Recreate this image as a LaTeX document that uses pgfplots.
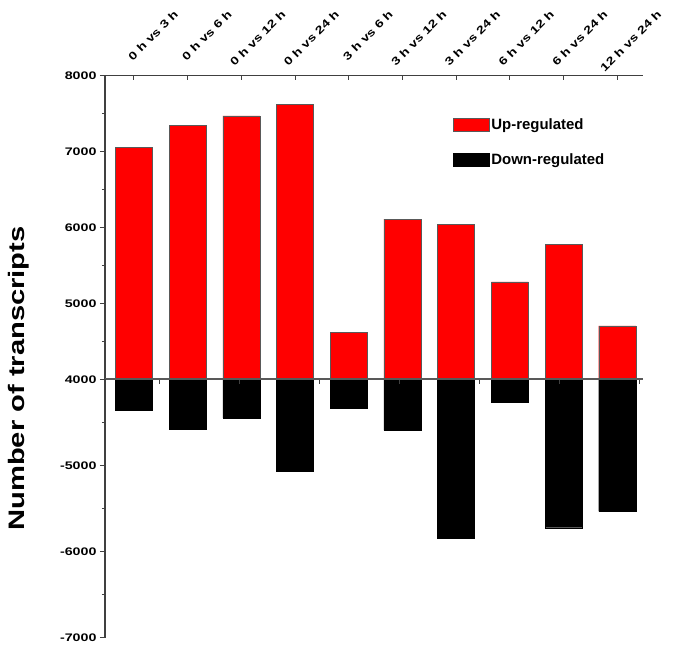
\documentclass[border=0pt]{standalone}
\usepackage{fontspec}
\setmainfont{Liberation Sans}
\newfontfamily\widefont{Liberation Sans}[FakeStretch=1.3]
\usepackage{pgfplots}
\usepackage{pgfplotstable}
\usetikzlibrary{calc}
\pgfplotsset{compat=1.18}

% up: up-regulated counts, down: down-regulated (lower scale)
\pgfplotstableread{
x up down
0 7050 -4360
1 7345 -4580
2 7470 -4445
3 7620 -5060
4 4620 -4335
5 6110 -4590
6 6045 -5840
7 5285 -4260
8 5780 -5720
9 4705 -5530
}\datatable

\pgfplotsset{
  common/.style={
    scale only axis, width=538bp,
    xmin=-0.54, xmax=9.48,
    axis x line=top, axis y line=left,
    axis line style={-, draw=black!75, line width=1.2bp},
    xtick align=inside, ytick align=outside,
    tick style={draw=black!75, line width=1bp},
    major tick length=5bp, minor tick length=3bp,
    yticklabel style={font=\widefont\bfseries\fontsize{11}{12}\selectfont},
    axis on top,
  },
  boxlegend/.style={legend image code/.code={\draw[##1] (0bp,-6.5bp) rectangle (36bp,6.5bp);}},
}

\begin{document}
\begin{tikzpicture}
\begin{axis}[common, name=up, height=304bp,
  ymin=4000, ymax=8000,
  xtick={0,...,9},
  xticklabels={0 h vs 3 h, 0 h vs 6 h, 0 h vs 12 h, 0 h vs 24 h, 3 h vs 6 h,
    3 h vs 12 h, 3 h vs 24 h, 6 h vs 12 h, 6 h vs 24 h, 12 h vs 24 h},
  xticklabel shift=21bp,
  xticklabel style={rotate=45, anchor=east, xshift=63bp,
    font=\widefont\bfseries\fontsize{11}{12}\selectfont},
  ytick={4000,5000,6000,7000,8000},
  yticklabels={4000,5000,6000,7000,8000},
  minor ytick={4500,5500,6500,7500},
  legend style={at={(rel axis cs:0.641,0.872)}, anchor=north west, draw=none, fill=none,
    font=\bfseries\fontsize{15}{17}\selectfont, row sep=19bp},
  legend cell align=left,
]
\addplot[ybar, bar width=0.69, fill=red, draw=black!65, boxlegend] table[x=x, y=up] {\datatable};
\addlegendentry{Up-regulated}
\addlegendimage{fill=black, draw=black, boxlegend}
\addlegendentry{Down-regulated}
\coordinate (tl) at (rel axis cs:0,1);
\end{axis}

\begin{axis}[common, at={(up.south west)}, anchor=north west, height=258.5bp,
  ymin=-7000, ymax=-4000,
  axis line style={-, draw=black!75, line width=1.2bp},
  x axis line style={line width=2bp, draw=black!65},
  xtick={0.466,1.956,3.446,4.94,6.43,7.92,9.41},
  xticklabels={},
  ytick={-7000,-6000,-5000},
  yticklabels={-7000,-6000,-5000},
  minor ytick={-6500,-5500,-4500},
]
\addplot[ybar, bar width=0.69, fill=black, draw=black] table[x=x, y=down] {\datatable};
\end{axis}

\node[rotate=90, font=\widefont\bfseries\fontsize{22.5}{24}\selectfont]
  at ($(tl)+(-86bp,-303bp)$) {Number of transcripts};

\pgfresetboundingbox
\path (tl) ++(-105bp,75.5bp) rectangle ++(673bp,-652bp);
\end{tikzpicture}
\end{document}
